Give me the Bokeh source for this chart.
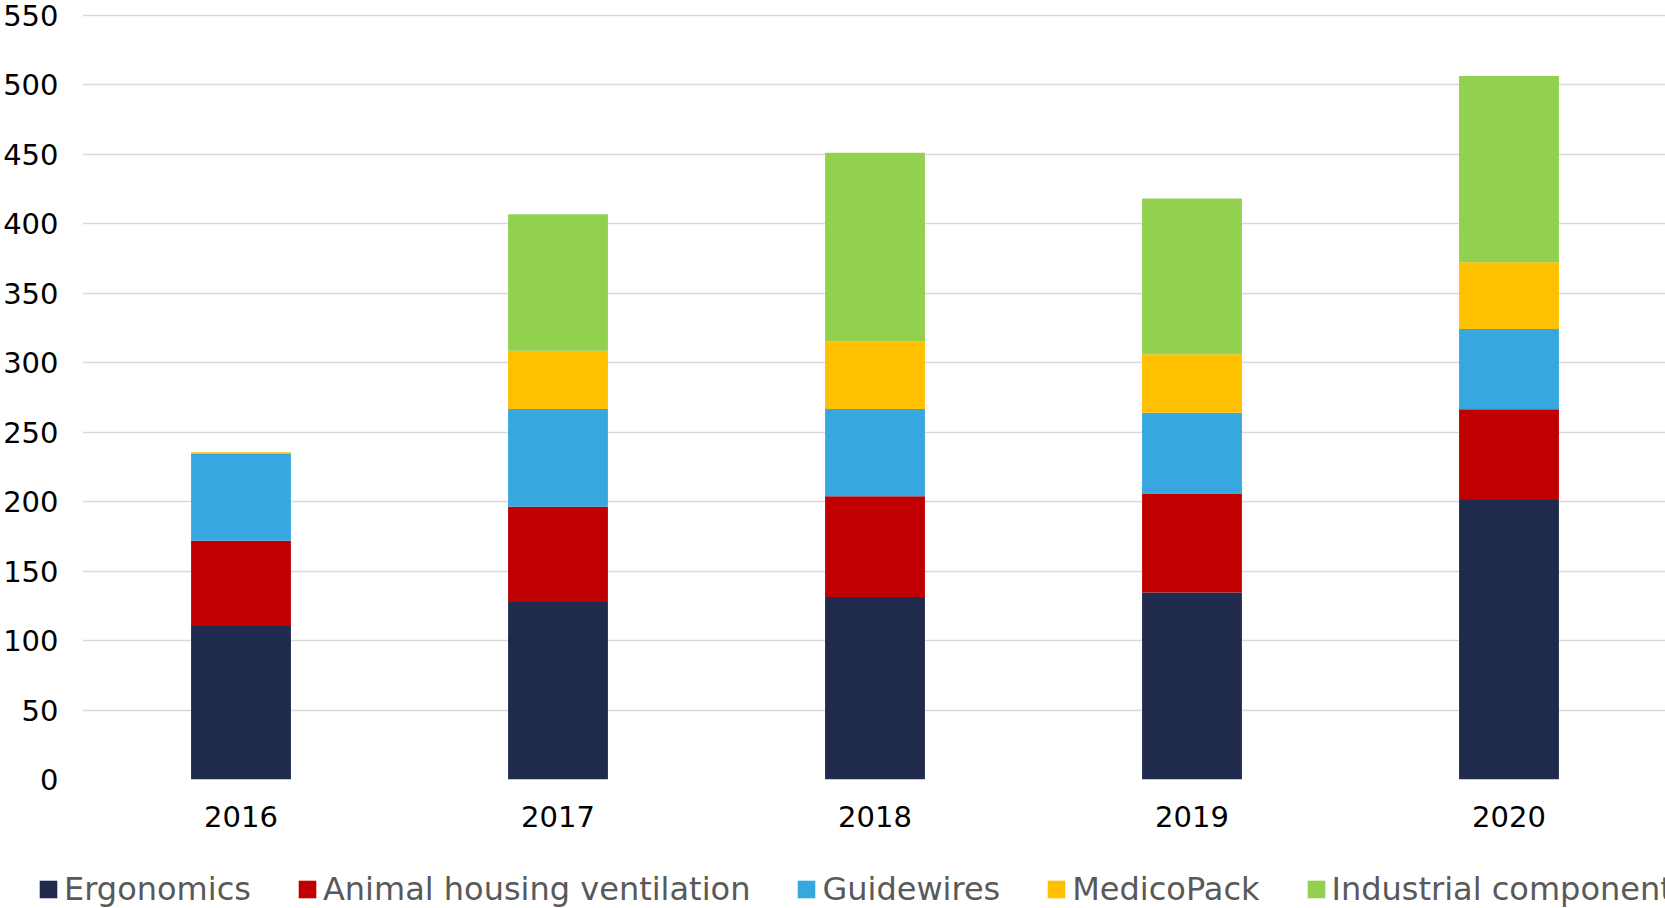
from bokeh.plotting import figure
from bokeh.layouts import column
from bokeh.models import ColumnDataSource, Range1d, FixedTicker, Legend, LegendItem
from bokeh.embed import file_html
from bokeh.resources import INLINE

years = ["2016", "2017", "2018", "2019", "2020"]
series = ["Ergonomics", "Animal housing ventilation", "Guidewires", "MedicoPack", "Industrial components"]
ergonomics = [110.5, 127.8, 131.4, 134.6, 201.3]
animal = [61.3, 68.5, 72.6, 71.3, 65.2]
guidewires = [62.5, 70.4, 62.7, 58.1, 57.9]
medicopack = [1.2, 42.0, 48.8, 42.1, 48.0]
industrial = [0.0, 98.3, 135.7, 112.2, 134.1]
colors = ["#1F2A4D", "#C00000", "#37A7DF", "#FFC000", "#92D050"]
y_ticks = [0, 50, 100, 150, 200, 250, 300, 350, 400, 450, 500, 550]

keys = ["s0", "s1", "s2", "s3", "s4"]
xpos = [i + 0.5 for i in range(len(years))]
src = ColumnDataSource(dict(x=xpos, s0=ergonomics, s1=animal, s2=guidewires, s3=medicopack, s4=industrial))

W = 1665
p = figure(width=W, height=860, output_backend="svg", toolbar_location=None,
           x_range=Range1d(0, 1583 / 317), y_range=Range1d(0, 560.8),
           min_border_left=82, min_border_right=0, min_border_top=0, min_border_bottom=81)
p.outline_line_color = None
p.frame_align = False

p.vbar_stack(keys, x="x", width=0.315, source=src, color=colors, line_color=None)

p.xgrid.visible = False
p.ygrid.grid_line_color = "#D9D9D9"
p.ygrid.grid_line_width = 1.3
p.yaxis.ticker = FixedTicker(ticks=y_ticks)
p.xaxis.ticker = FixedTicker(ticks=xpos)
p.xaxis.major_label_overrides = {x: y for x, y in zip(xpos, years)}

for ax in (p.xaxis[0], p.yaxis[0]):
    ax.axis_line_color = None
    ax.major_tick_line_color = None
    ax.minor_tick_line_color = None
    ax.major_tick_out = 0
    ax.major_tick_in = 0
    ax.major_label_text_font = "DejaVu Sans"
    ax.major_label_text_font_size = "29px"
    ax.major_label_text_color = "#000000"
p.yaxis.major_label_standoff = 24
p.xaxis.major_label_standoff = 26

# legend strip: same series, drawn out of view so only the legend shows
q = figure(width=W, height=48, output_backend="svg", toolbar_location=None,
           x_axis_location=None, y_axis_location=None,
           x_range=Range1d(-101, -100), y_range=Range1d(-10, -9),
           min_border_left=0, min_border_right=0, min_border_top=0, min_border_bottom=0)
q.frame_align = False
q.grid.visible = False
q.outline_line_color = None
leg_r = q.vbar_stack(keys, x="x", width=0.315, source=src, color=colors, line_color=None)

items = [LegendItem(label=s, renderers=[r]) for s, r in zip(series, leg_r)]
legend = Legend(items=items, orientation="horizontal", location=(37, 0),
                glyph_width=22, glyph_height=22, label_standoff=5, spacing=45,
                padding=0, margin=0, border_line_color=None, background_fill_alpha=0,
                label_text_font="DejaVu Sans", label_text_font_size="32px",
                label_text_color="#595959")
q.add_layout(legend, "center")

layout = column(p, q, spacing=0)
open("out.html", "w").write(file_html(layout, INLINE))
